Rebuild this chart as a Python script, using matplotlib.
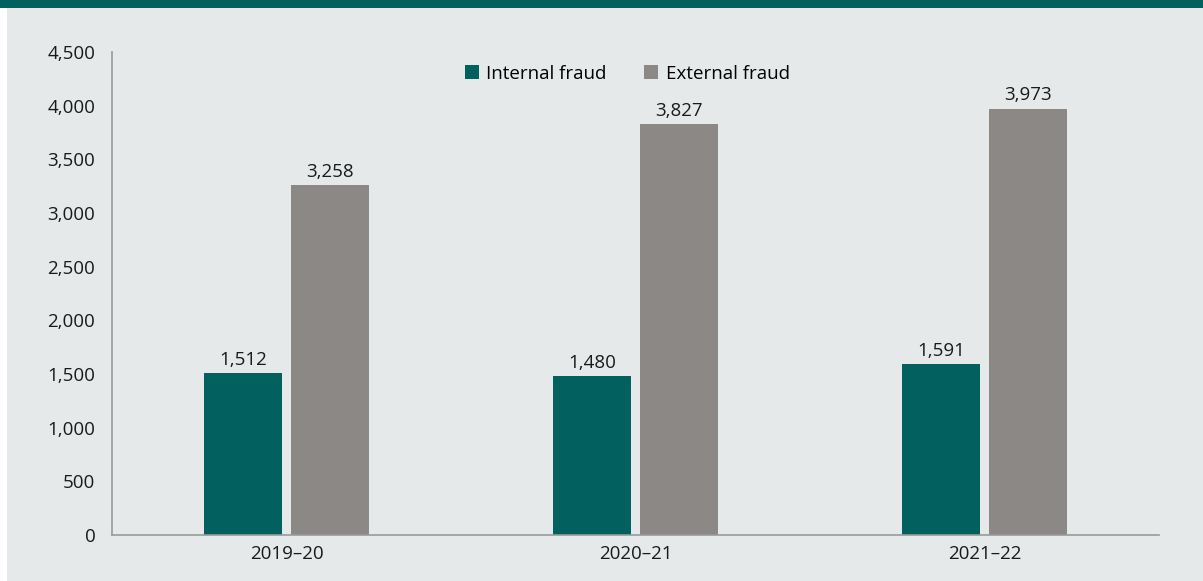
import matplotlib
matplotlib.use("Agg")
import matplotlib.pyplot as plt
from matplotlib.patches import Rectangle
import numpy as np

categories = ["2019\u201320", "2020\u201321", "2021\u201322"]
internal_fraud = [1512, 1480, 1591]
external_fraud = [3258, 3827, 3973]
series_names = ["Internal fraud", "External fraud"]
yticks = [0, 500, 1000, 1500, 2000, 2500, 3000, 3500, 4000, 4500]

TEAL = "#02605F"
GREY = "#8C8886"
BG = "#E5E9EA"
FS = 13.5

plt.rcParams['font.family'] = ['Open Sans', 'DejaVu Sans']

fig = plt.figure(figsize=(12.03, 5.81), dpi=100)
fig.patch.set_facecolor("white")
# background panel and top banner
fig.patches.append(Rectangle((7/1203, 0), 1 - 7/1203, 1 - 8/581, transform=fig.transFigure,
                             facecolor=BG, edgecolor="none", zorder=-10))
fig.patches.append(Rectangle((0, 1 - 8/581), 1, 8/581, transform=fig.transFigure,
                             facecolor=TEAL, edgecolor="none", zorder=-10))

ax = fig.add_axes([112/1203, (581-535)/581, (1159-112)/1203, (535-52)/581])
ax.set_facecolor("none")
ax.set_zorder(5)

x = np.arange(len(categories))
w = 0.226
off = 0.1246
b1 = ax.bar(x - off, internal_fraud, w, color=TEAL, label=series_names[0], zorder=2)
b2 = ax.bar(x + off, external_fraud, w, color=GREY, label=series_names[1], zorder=2)

for bars, vals in ((b1, internal_fraud), (b2, external_fraud)):
    for r, v in zip(bars, vals):
        ax.annotate(f"{v:,}", (r.get_x() + r.get_width()/2, v), xytext=(0, 3),
                    textcoords="offset points", ha="center", va="bottom",
                    fontsize=FS, color="#1a1a1a")

ax.set_xlim(-0.5, len(categories) - 0.5)
ax.set_ylim(0, 4500)
ax.set_yticks(yticks)
ax.set_yticklabels([f"{t:,}" for t in yticks])
ax.set_xticks(x)
ax.set_xticklabels(categories)
ax.tick_params(axis="both", length=0, labelsize=FS, colors="#1a1a1a")
ax.tick_params(axis="y", pad=12)
ax.tick_params(axis="x", pad=7)
for s in ("top", "right"):
    ax.spines[s].set_visible(False)
for s in ("left", "bottom"):
    ax.spines[s].set_color("#9A9A9A")
    ax.spines[s].set_linewidth(1.2)

leg = ax.legend(loc="center", bbox_to_anchor=(0.492, 0.955), ncol=2, frameon=False,
                fontsize=FS, handlelength=0.75, handleheight=0.75, handletextpad=0.4,
                columnspacing=2.0)

fig.savefig("out.png", dpi=100, facecolor=fig.get_facecolor())
